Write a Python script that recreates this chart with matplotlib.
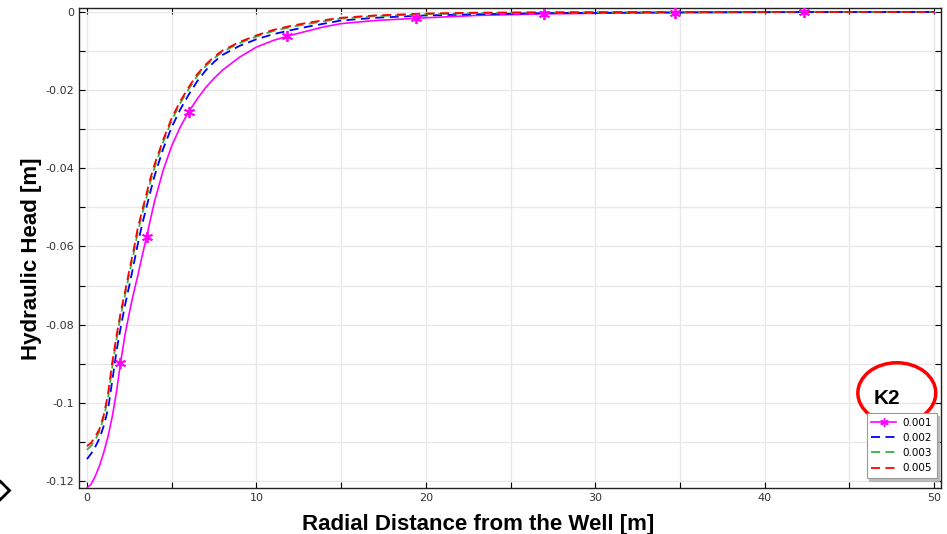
import numpy as np
import matplotlib.pyplot as plt
from matplotlib.patches import Ellipse
from matplotlib.lines import Line2D
from matplotlib.ticker import MultipleLocator, FuncFormatter

# 半径方向の距離 [m]
r = [0, 0.25, 0.5, 0.75, 1, 1.25, 1.5, 1.75, 2, 2.25, 2.5, 2.75, 3, 3.25, 3.5,
     3.75, 4, 4.5, 5, 5.5, 6, 6.5, 7, 7.5, 8, 9, 10, 11, 12, 13, 14, 15, 17, 20,
     23, 27, 31, 35, 40, 45, 50]

# 水頭 [m]（K2 ごと）
h_0001 = [-0.1218, -0.1208, -0.1187, -0.1160, -0.1126, -0.1085, -0.1034, -0.0970,
          -0.0893, -0.0825, -0.0770, -0.0720, -0.0675, -0.0626, -0.0579, -0.0530,
          -0.0483, -0.0405, -0.0343, -0.0295, -0.0256, -0.0223, -0.0194, -0.0170,
          -0.0149, -0.0116, -0.0090, -0.0073, -0.0060, -0.0049, -0.0038, -0.0030,
          -0.0022, -0.0015, -0.0009, -0.0005, -0.0003, -0.0002, -0.0001, -0.00006,
          -0.00003]
h_0002 = [-0.1144, -0.1130, -0.1112, -0.1090, -0.1058, -0.1015, -0.0942, -0.0866,
          -0.0805, -0.0750, -0.0700, -0.0648, -0.0594, -0.0545, -0.0502, -0.0459,
          -0.0418, -0.0350, -0.0295, -0.0250, -0.0212, -0.0178, -0.0150, -0.0128,
          -0.0110, -0.0087, -0.0070, -0.0057, -0.0047, -0.0038, -0.0030, -0.0022,
          -0.0015, -0.0009, -0.0006, -0.0003, -0.0002, -0.0001, -0.00005, -0.00002,
          -0.00001]
h_0003 = [-0.1120, -0.1110, -0.1094, -0.1072, -0.1036, -0.0985, -0.0906, -0.0836,
          -0.0775, -0.0724, -0.0670, -0.0619, -0.0563, -0.0519, -0.0477, -0.0434,
          -0.0397, -0.0333, -0.0278, -0.0234, -0.0198, -0.0165, -0.0139, -0.0119,
          -0.0102, -0.0080, -0.0063, -0.0049, -0.0039, -0.0031, -0.0024, -0.0017,
          -0.0011, -0.0006, -0.0003, -0.00015, -0.00008, -0.00004, -0.00002, 0, 0]
h_0005 = [-0.1111, -0.1102, -0.1086, -0.1066, -0.1030, -0.0975, -0.0895, -0.0828,
          -0.0766, -0.0716, -0.0661, -0.0610, -0.0553, -0.0510, -0.0468, -0.0425,
          -0.0389, -0.0327, -0.0272, -0.0229, -0.0193, -0.0160, -0.0135, -0.0115,
          -0.0099, -0.0077, -0.0060, -0.0046, -0.0036, -0.0028, -0.0021, -0.0015,
          -0.0009, -0.0004, -0.0002, -0.0001, -0.00005, -0.00002, 0, 0, 0]

# K2=0.001 のマーカー位置
mark_r = [1.97, 3.52, 6.04, 11.8, 19.4, 27.0, 34.7, 42.3]
mark_h = [-0.0899, -0.0575, -0.0256, -0.0061, -0.0016, -0.0005, -0.0002, -0.0001]

labels = ['0.001', '0.002', '0.003', '0.005']
colors = ['#ff00ff', '#0000ff', '#3cb043', '#ff0000']

fig = plt.figure(figsize=(9.47, 5.34), dpi=100)
ax = fig.add_axes([0.0834, 0.0861, 0.9103, 0.8989])

asterisk = (6, 2, 0)
ax.plot(r, h_0001, '-', color=colors[0], lw=1.2, zorder=3)
ax.plot(mark_r, mark_h, ls='none', marker=asterisk, ms=8, mew=1.3,
        color=colors[0], zorder=4)
ax.plot(r, h_0002, '--', color=colors[1], lw=1.3, dashes=(5, 3), zorder=3)
ax.plot(r, h_0003, '--', color=colors[2], lw=1.3, dashes=(5, 3), zorder=3)
ax.plot(r, h_0005, '--', color=colors[3], lw=1.3, dashes=(5, 3), zorder=3)

ax.set_xlim(-0.47, 50.41)
ax.set_ylim(-0.1218, 0.001)

ax.xaxis.set_major_locator(MultipleLocator(10))
ax.xaxis.set_minor_locator(MultipleLocator(5))
ax.yaxis.set_major_locator(MultipleLocator(0.02))
ax.yaxis.set_minor_locator(MultipleLocator(0.01))
ax.yaxis.set_major_formatter(FuncFormatter(lambda v, p: '0' if abs(v) < 1e-9 else f'{v:g}'))

ax.grid(True, which='both', color='#e8e8e8', lw=1)
ax.set_axisbelow(True)
ax.tick_params(which='both', direction='in', top=True, right=True,
               labelsize=8, labelcolor='#333333', length=4, width=0.8)
for s in ax.spines.values():
    s.set_color('#222222')
    s.set_linewidth(1)

lab_font = dict(family='Liberation Sans', fontsize=16, fontweight='bold')
ax.set_xlabel('Radial Distance from the Well [m]', **lab_font)
ax.set_ylabel('Hydraulic Head [m]', **lab_font)
ax.xaxis.set_label_coords(0.463, -0.055)
ax.yaxis.set_label_coords(-0.043, 0.477)

handles = [
    Line2D([], [], color=colors[0], lw=1.2, marker=asterisk, ms=6),
    Line2D([], [], color=colors[1], lw=1.3, ls='--', dashes=(5, 3)),
    Line2D([], [], color=colors[2], lw=1.3, ls='--', dashes=(5, 3)),
    Line2D([], [], color=colors[3], lw=1.3, ls='--', dashes=(5, 3)),
]
leg = ax.legend(handles, labels, loc='lower right', bbox_to_anchor=(1.001, 0.010),
                fontsize=7.5, frameon=True, fancybox=False,
                shadow={'color': '#b0b0b0', 'alpha': 0.8},
                handlelength=2.4, borderpad=0.45, labelspacing=0.5, handletextpad=0.6)
leg.get_frame().set_edgecolor('#999999')
leg.get_frame().set_linewidth(0.8)

ax.text(47.2, -0.0988, 'K2', family='Liberation Sans', fontsize=15,
        fontweight='bold', ha='center', va='center')
ax.add_patch(Ellipse((47.8, -0.0975), 4.6, 0.0155, fill=False, edgecolor='red',
                     lw=2.5, clip_on=False, zorder=5))

# 左下の切れた記号
fig.add_artist(Line2D([0.0], [1 - 490 / 534], marker='D', ms=9, mfc='none',
                      mec='black', mew=2, transform=fig.transFigure))

fig.savefig('out.png', dpi=100)
